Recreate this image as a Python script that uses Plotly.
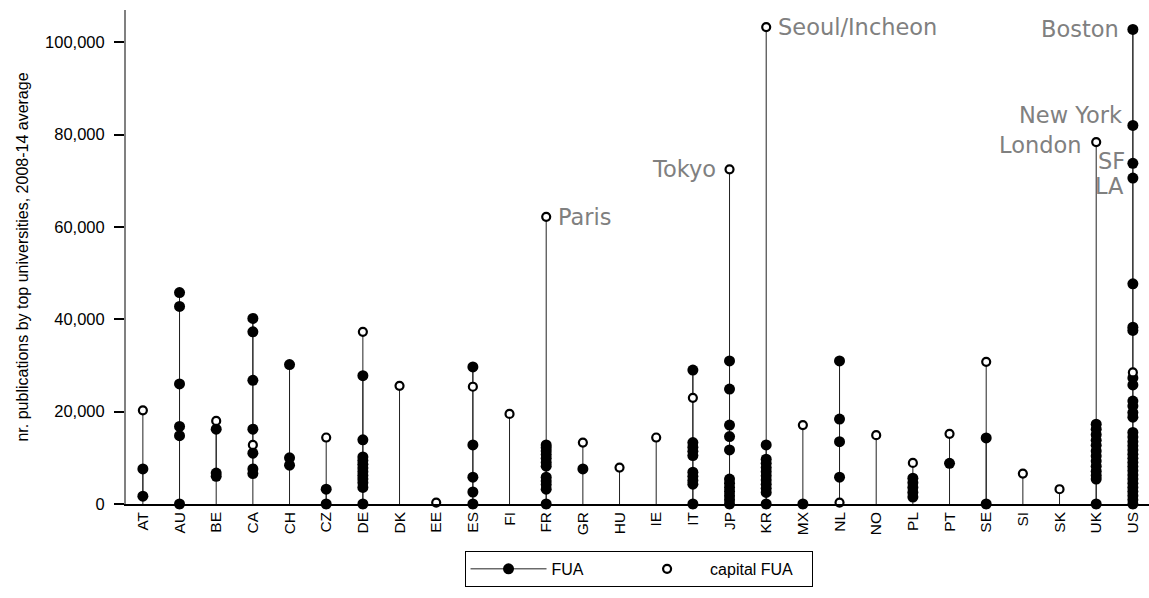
import plotly.graph_objects as go

# Country codes along the x axis
countries = ["AT", "AU", "BE", "CA", "CH", "CZ", "DE", "DK", "EE", "ES", "FI", "FR", "GR", "HU",
             "IE", "IT", "JP", "KR", "MX", "NL", "NO", "PL", "PT", "SE", "SI", "SK", "UK", "US"]

# Publications by top universities (2008-14 average) for non-capital FUAs, per country
AT_fua = [7600, 1700]
AU_fua = [45800, 42800, 26000, 16800, 14800, 0]
BE_fua = [16200, 6700, 6000]
CA_fua = [40200, 37300, 26800, 16200, 11000, 7600, 6600]
CH_fua = [30200, 10000, 8400]
CZ_fua = [3200, 0]
DE_fua = [27800, 13900, 10200, 9400, 8600, 7800, 7000, 6200, 5400, 4600, 3600, 0]
DK_fua = []
EE_fua = []
ES_fua = [29700, 12800, 5800, 2600, 0]
FI_fua = []
FR_fua = [12800, 12200, 11500, 10700, 9900, 9000, 8200, 5800, 5000, 4200, 3200, 0]
GR_fua = [7600]
HU_fua = []
IE_fua = []
IT_fua = [29000, 13300, 12300, 11400, 10500, 6900, 6000, 5100, 4300, 0]
JP_fua = [31000, 24900, 17100, 14600, 11700, 5400, 4500, 3600, 2700, 1800, 900, 0]
KR_fua = [12800, 9700, 8800, 7900, 7000, 6100, 5200, 4300, 3400, 2500, 0]
MX_fua = [0]
NL_fua = [31000, 18400, 13500, 5800]
NO_fua = []
PL_fua = [5600, 4600, 3600, 2500, 1500]
PT_fua = [8800]
SE_fua = [14300, 0]
SI_fua = []
SK_fua = []
UK_fua = [17300, 16200, 15000, 13800, 12700, 11500, 10400, 9300, 8200, 7100, 6200, 5400, 0]
US_fua = [102800, 82000, 73800, 70600, 47700, 38300, 37600, 27300, 25800, 22300, 21200, 19800,
          18800, 15500, 14500, 13500, 12600, 11700, 10800, 9900, 9000, 8100, 7200, 6300, 5400,
          4500, 3600, 2700, 1800, 900, 0]

# Capital FUA per country (None where the capital is not among the FUAs)
capital_values = [20300, None, 18000, 12800, None, 14400, 37300, 25600, 300, 25400, 19500, 62200,
                  13300, 7900, 14400, 23000, 72500, 103300, 17100, 300, 14900, 8900, 15200, 30800,
                  6600, 3200, 78400, 28500]

# Named metropolitan areas
label_names = ["Paris", "Seoul/Incheon", "Tokyo", "London", "Boston", "New York", "SF", "LA"]
label_countries = ["FR", "KR", "JP", "UK", "US", "US", "US", "US"]
label_values = [62200, 103300, 72500, 78400, 102800, 82000, 73800, 70600]
label_sides = ["right", "right", "left", "left", "left", "left", "left", "left"]
label_xshift = [10, 10, -12, -13, -12, -9, -6, -7]
label_yshift = [0, 0, 0, -3, 0, 10, 2, -8]

fua_lists = [AT_fua, AU_fua, BE_fua, CA_fua, CH_fua, CZ_fua, DE_fua, DK_fua, EE_fua, ES_fua,
             FI_fua, FR_fua, GR_fua, HU_fua, IE_fua, IT_fua, JP_fua, KR_fua, MX_fua, NL_fua,
             NO_fua, PL_fua, PT_fua, SE_fua, SI_fua, SK_fua, UK_fua, US_fua]

pos = list(range(len(countries)))

# Stems: from zero to the highest value in each country
stem_x, stem_y = [], []
for i, fl in enumerate(fua_lists):
    vals = list(fl) + ([capital_values[i]] if capital_values[i] is not None else [])
    stem_x += [i, i, None]
    stem_y += [0, max(vals), None]

fua_x, fua_y = [], []
for i, fl in enumerate(fua_lists):
    if not fl:
        continue
    for v in sorted(fl):
        fua_x.append(i)
        fua_y.append(v)
    fua_x.append(None)
    fua_y.append(None)

cap_x = [i for i, v in enumerate(capital_values) if v is not None]
cap_y = [v for v in capital_values if v is not None]

stem_color = "#222222"
base_font = "Arial, Liberation Sans"
nbsp = "\u00a0"

fig = go.Figure()
fig.add_trace(go.Scatter(x=stem_x, y=stem_y, mode="lines", line=dict(color=stem_color, width=1),
                         showlegend=False, hoverinfo="skip", cliponaxis=False))
fig.add_trace(go.Scatter(x=fua_x, y=fua_y, mode="lines+markers", name="FUA" + nbsp * 8,
                         line=dict(color=stem_color, width=1),
                         marker=dict(color="black", size=11, symbol="circle"),
                         cliponaxis=False))
fig.add_trace(go.Scatter(x=cap_x, y=cap_y, mode="markers", name="capital FUA" + nbsp * 3,
                         marker=dict(color="white", size=8, symbol="circle",
                                     line=dict(color="black", width=2.2)),
                         cliponaxis=False))

for name, c, v, side, xs, ys in zip(label_names, label_countries, label_values, label_sides,
                                   label_xshift, label_yshift):
    fig.add_annotation(x=countries.index(c), y=v, text=name, showarrow=False,
                       xanchor="left" if side == "right" else "right", yanchor="middle",
                       xshift=xs, yshift=ys,
                       font=dict(family="DejaVu Sans", size=22.5, color="#808080"))

fig.update_layout(
    width=1149, height=598,
    margin=dict(l=126, r=0, t=10, b=94),
    paper_bgcolor="white", plot_bgcolor="white",
    font=dict(family=base_font, color="black"),
    legend=dict(orientation="h", x=0.501, xanchor="center", y=-0.095, yanchor="top",
                bordercolor="black", borderwidth=1, font=dict(size=16, family=base_font),
                itemwidth=76, bgcolor="white"),
    xaxis=dict(range=[-0.46, 27.44], tickmode="array", tickvals=pos, ticktext=countries,
               tickangle=-90, showgrid=False, zeroline=False, showline=True,
               linecolor="black", linewidth=1.5, ticks="",
               tickfont=dict(size=15.5, family=base_font, color="black")),
    yaxis=dict(range=[0, 107000], tickvals=[0, 20000, 40000, 60000, 80000, 100000],
               tickformat=",", showgrid=False, zeroline=False, showline=True,
               linecolor="#808080", linewidth=2, ticks="outside", ticklen=10,
               tickcolor="black", tickwidth=1.7, ticklabelstandoff=6,
               tickfont=dict(size=16.5, family=base_font, color="black"),
               title=dict(text="nr. publications by top universities, 2008-14 average",
                          font=dict(size=16, family=base_font), standoff=12)),
)

fig.write_html("out.html")
